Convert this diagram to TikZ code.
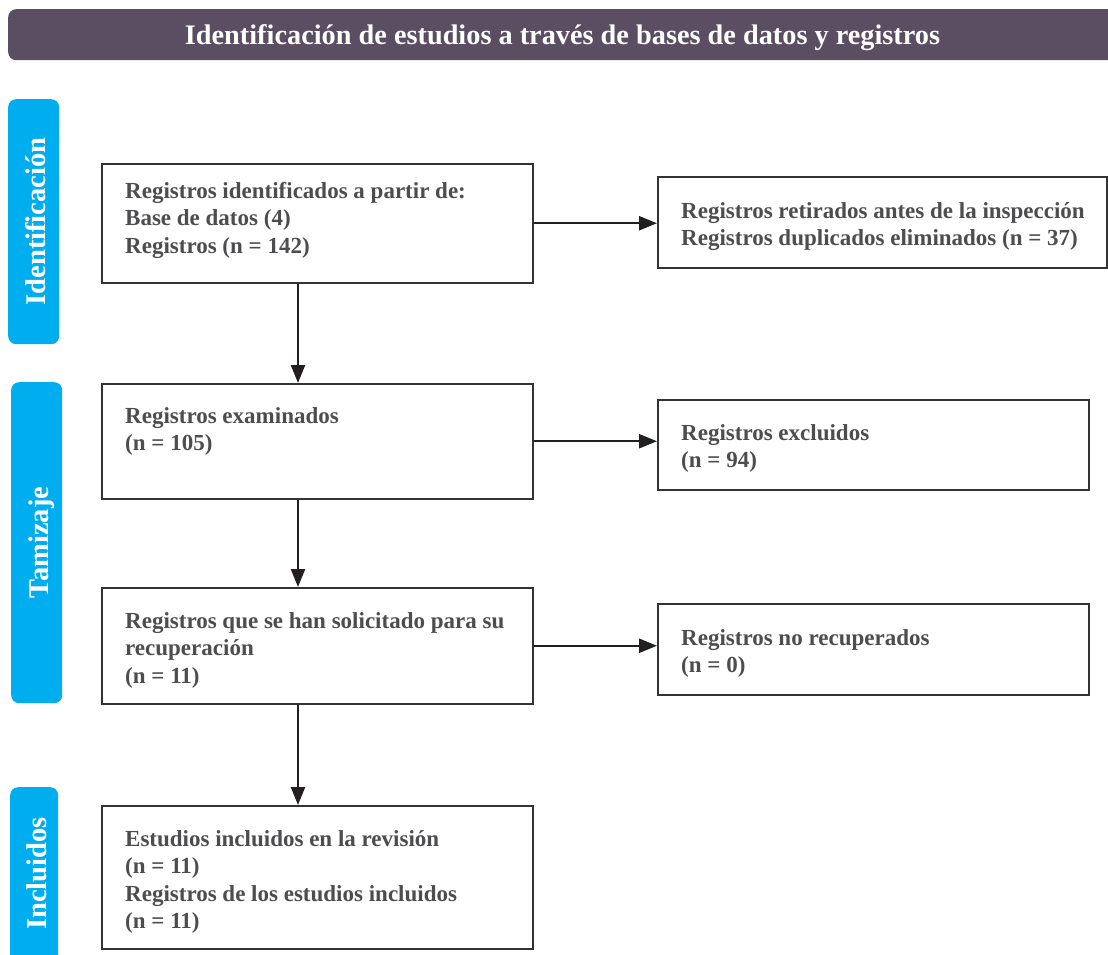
\documentclass[tikz,border=0pt]{standalone}
\usepackage{fontspec}
\setmainfont{Liberation Serif}
\usetikzlibrary{arrows.meta}
\definecolor{hdr}{HTML}{5B4E62}
\definecolor{tabc}{HTML}{00AEEF}
\definecolor{txt}{HTML}{4D4D4F}
\definecolor{ln}{HTML}{333333}
\definecolor{arrc}{HTML}{231F20}
\begin{document}
\begin{tikzpicture}[x=1pt,y=-1pt,
  box/.style={draw=ln, line width=1.5pt, inner sep=0pt, anchor=north west},
  lbl/.style={anchor=base west, inner sep=0pt, text=txt, align=left,
    font=\fontsize{23}{27.5}\selectfont\bfseries},
  arr/.style={draw=arrc, line width=2.4pt, -{Triangle[length=18pt,width=14pt]}},
  tabbox/.style={fill=tabc, rounded corners=8pt, inner sep=0pt, anchor=north west, minimum width=51pt},
  tabtxt/.style={text=white, inner sep=0pt, anchor=base, rotate=90,
    font=\fontsize{28.5}{30}\selectfont\bfseries}]
\useasboundingbox (0,0) rectangle (1108,955);
% header
\node[fill=hdr, rounded corners=8pt, inner sep=0pt, anchor=north west,
  minimum width=1130pt, minimum height=51pt] (head) at (8,9) {};
\node[text=white, inner sep=0pt, anchor=base, font=\fontsize{28.3}{30}\selectfont\bfseries]
  (headtxt) at (562.5,45) {Identificación de estudios a través de bases de datos y registros};
% tabs
\node[tabbox, minimum height=245pt] (t1) at (8,99) {};
\node[tabtxt] (t1txt) at (45,221.5) {Identificación};
\node[tabbox, minimum height=321pt] (t2) at (11,382) {};
\node[tabtxt] (t2txt) at (48,542.5) {Tamizaje};
\node[tabbox, minimum width=48pt, minimum height=190pt] (t3) at (10,787) {};
\node[tabtxt] (t3txt) at (46,873.5) {Incluidos};
% boxes
\node[box, minimum width=431pt, minimum height=119pt] (b1) at (101,163) {};
\node[box, minimum width=449pt, minimum height=91pt] (b2) at (657,176) {};
\node[box, minimum width=431pt, minimum height=115pt] (b3) at (101,383) {};
\node[box, minimum width=431pt, minimum height=90pt] (b4) at (657,399) {};
\node[box, minimum width=431pt, minimum height=116pt] (b5) at (101,587) {};
\node[box, minimum width=431pt, minimum height=91pt] (b6) at (657,603) {};
\node[box, minimum width=431pt, minimum height=143pt] (b7) at (101,805) {};
% labels (anchored at the baseline of their last line)
\node[lbl] (l1) at (125,253) {Registros identificados a partir de:\\Base de datos (4)\\Registros (n = 142)};
\node[lbl] (l2) at (681,245.5) {Registros retirados antes de la inspección\\Registros duplicados eliminados (n = 37)};
\node[lbl] (l3) at (125,450.5) {Registros examinados\\(n = 105)};
\node[lbl] (l4) at (681,467.5) {Registros excluidos\\(n = 94)};
\node[lbl] (l5) at (125,683) {Registros que se han solicitado para su\\recuperación\\(n = 11)};
\node[lbl] (l6) at (681,672.5) {Registros no recuperados\\(n = 0)};
\node[lbl] (l7) at (125,928.5) {Estudios incluidos en la revisión\\(n = 11)\\Registros de los estudios incluidos\\(n = 11)};
% connectors
\coordinate (vx) at (298,0);
\draw[arr] (b1.south -| vx) -- (b3.north -| vx);
\draw[arr] (b3.south -| vx) -- (b5.north -| vx);
\draw[arr] (b5.south -| vx) -- (b7.north -| vx);
\draw[arr] (b1.east) -- (b1.east -| b2.west);
\draw[arr] (b3.east) -- (b3.east -| b4.west);
\draw[arr] (b5.east) -- (b5.east -| b6.west);
\end{tikzpicture}
\end{document}
